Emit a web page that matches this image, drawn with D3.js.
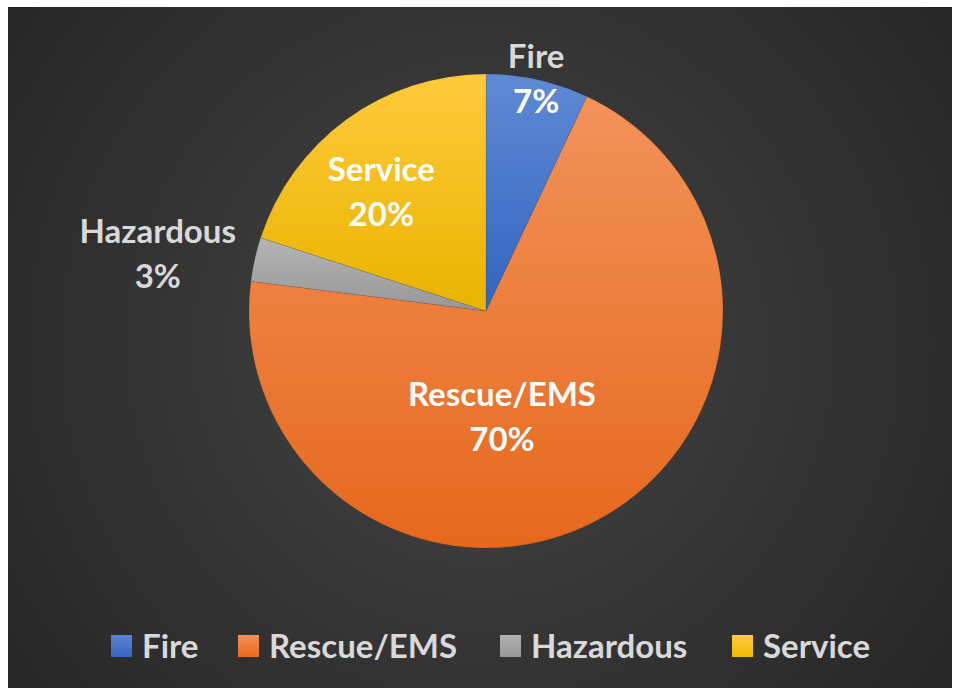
<!DOCTYPE html>
<html>
<head>
<meta charset="utf-8">
<script src="https://cdn.jsdelivr.net/npm/d3@7/dist/d3.min.js"></script>
<style>
  html, body { margin: 0; padding: 0; background: #ffffff; }
  svg { display: block; }
</style>
</head>
<body>
<svg id="chart" width="953" height="688"></svg>
<script>
// ---- data ----
const categories = ["Fire", "Rescue/EMS", "Hazardous", "Service"];
const values = [7, 70, 3, 20];
const percentLabels = ["7%", "70%", "3%", "20%"];

// ---- style ----
const colorsTop = ["#5f8ad4", "#f2925a", "#b5b5b5", "#ffca3a"];
const colorsBottom = ["#3363bf", "#e6681c", "#979797", "#e9b300"];
const legendColorsTop = ["#5b86d2", "#f2925a", "#b3b3b3", "#ffcc40"];
const legendColorsBottom = ["#3564c0", "#e8691c", "#969696", "#f0b800"];
// label placement: angle (deg, clockwise from top) and radius fraction; name/pct colours
const labelLayout = [
  { angle: 12.2, rf: 1.0,  nameFill: "#d9d9d9", pctFill: "#ffffff" },
  { angle: 171.5, rf: 0.455, nameFill: "#ffffff", pctFill: "#ffffff" },
  { angle: 279.7, rf: 1.405, nameFill: "#d9d9d9", pctFill: "#d9d9d9" },
  { angle: 318.5, rf: 0.667, nameFill: "#ffffff", pctFill: "#ffffff" }
];

const W = 953, H = 688;
const svg = d3.select("#chart");
const defs = svg.append("defs");
const FONT = "Lato, 'Open Sans', sans-serif";

// background
const bg = defs.append("radialGradient").attr("id", "bgGrad")
  .attr("gradientUnits", "userSpaceOnUse")
  .attr("cx", 480).attr("cy", 345).attr("r", 640);
bg.append("stop").attr("offset", "0%").attr("stop-color", "#454545");
bg.append("stop").attr("offset", "100%").attr("stop-color", "#232323");
svg.append("rect").attr("x", 8).attr("y", 7).attr("width", 944).attr("height", 681)
  .attr("fill", "url(#bgGrad)");

// gradients for slices
categories.forEach((c, i) => {
  const g = defs.append("linearGradient").attr("id", "sg" + i)
    .attr("x1", 0).attr("y1", 0).attr("x2", 0).attr("y2", 1);
  g.append("stop").attr("offset", "0%").attr("stop-color", colorsTop[i]);
  g.append("stop").attr("offset", "100%").attr("stop-color", colorsBottom[i]);
  const lg = defs.append("linearGradient").attr("id", "lg" + i)
    .attr("x1", 0).attr("y1", 0).attr("x2", 0).attr("y2", 1);
  lg.append("stop").attr("offset", "0%").attr("stop-color", legendColorsTop[i]);
  lg.append("stop").attr("offset", "100%").attr("stop-color", legendColorsBottom[i]);
});

const cx = 486, cy = 311, R = 237;
const pie = d3.pie().value(d => d).sort(null);
const arcs = pie(values);
const arc = d3.arc().innerRadius(0).outerRadius(R);

const g = svg.append("g").attr("transform", `translate(${cx},${cy})`);
g.selectAll("path.slice").data(arcs).enter().append("path")
  .attr("class", "slice")
  .attr("d", arc)
  .attr("fill", (d, i) => `url(#sg${i})`)
  .attr("stroke", "rgba(0,0,0,0.15)")
  .attr("stroke-width", 0.6);

// labels
const fs = 33;
const lineGap = 45;
labelLayout.forEach((L, i) => {
  const a = L.angle * Math.PI / 180;
  const la = d3.arc().innerRadius(R * L.rf).outerRadius(R * L.rf)
    .startAngle(a).endAngle(a);
  const [lx, ly] = la.centroid();
  const t = g.append("g").attr("transform", `translate(${lx},${ly})`);
  t.append("text").attr("text-anchor", "middle")
    .attr("y", -lineGap / 2 + 11)
    .attr("font-family", FONT).attr("font-weight", 700).attr("font-size", fs)
    .attr("fill", L.nameFill)
    .text(categories[i]);
  t.append("text").attr("text-anchor", "middle")
    .attr("y", lineGap / 2 + 11)
    .attr("font-family", FONT).attr("font-weight", 700).attr("font-size", fs)
    .attr("fill", L.pctFill)
    .text(percentLabels[i]);
});

// legend
const legendStarts = [111, 238, 500, 732];
const leg = svg.append("g");
categories.forEach((c, i) => {
  const x = legendStarts[i];
  leg.append("rect").attr("x", x).attr("y", 635).attr("width", 21).attr("height", 22)
    .attr("fill", `url(#lg${i})`);
  leg.append("text").attr("x", x + 31).attr("y", 658)
    .attr("font-family", FONT).attr("font-weight", 700).attr("font-size", fs)
    .attr("fill", "#d9d9d9")
    .text(c);
});
</script>
</body>
</html>
